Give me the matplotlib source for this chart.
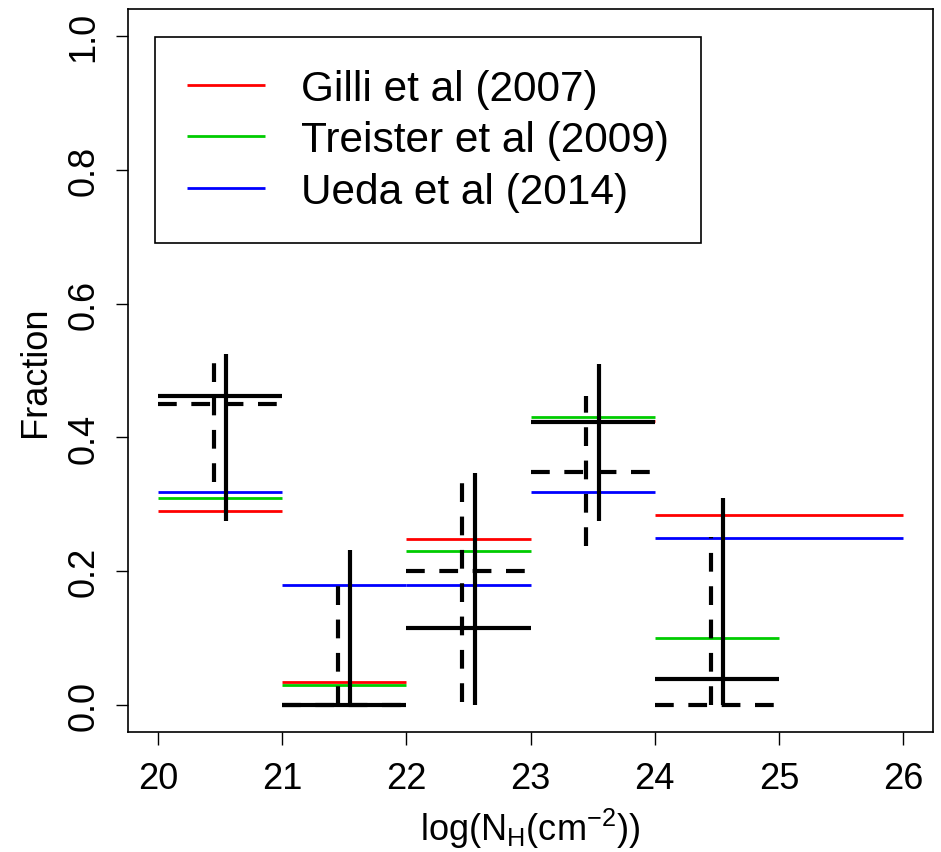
import matplotlib
matplotlib.use('Agg')
import matplotlib.pyplot as plt

plt.rcParams['font.family'] = ['Liberation Sans', 'DejaVu Sans']
plt.rcParams['mathtext.fontset'] = 'custom'
plt.rcParams['mathtext.rm'] = 'Liberation Sans'

# model curves: bin edges and fractions
gilli_lo = [20, 21, 22, 23, 24]
gilli_hi = [21, 22, 23, 24, 26]
gilli_val = [0.290, 0.034, 0.249, 0.425, 0.284]

treister_lo = [20, 21, 22, 23, 24]
treister_hi = [21, 22, 23, 24, 25]
treister_val = [0.309, 0.030, 0.230, 0.430, 0.100]

ueda_lo = [20, 21, 22, 23, 24]
ueda_hi = [21, 22, 23, 24, 26]
ueda_val = [0.319, 0.179, 0.179, 0.319, 0.250]

# observed fractions (solid and dashed) with error ranges
obs_lo = [20, 21, 22, 23, 24]
obs_hi = [21, 22, 23, 24, 25]
solid_x = [20.55, 21.55, 22.55, 23.55, 24.55]
solid_val = [0.462, 0.000, 0.115, 0.4235, 0.039]
solid_err_lo = [0.275, 0.000, 0.000, 0.275, 0.000]
solid_err_hi = [0.525, 0.232, 0.347, 0.510, 0.309]

dashed_x = [20.45, 21.45, 22.45, 23.45, 24.45]
dashed_val = [0.450, 0.000, 0.200, 0.349, 0.000]
dashed_err_lo = [0.333, 0.000, 0.005, 0.238, 0.000]
dashed_err_hi = [0.522, 0.181, 0.353, 0.462, 0.252]

xticks = [20, 21, 22, 23, 24, 25, 26]
yticks = [0.0, 0.2, 0.4, 0.6, 0.8, 1.0]

fig = plt.figure(figsize=(9.41, 8.53), dpi=100)
ax = fig.add_axes([128 / 941, 1 - 733 / 853, (933 - 128) / 941, (733 - 10) / 853])

red, green, blue = '#FF0000', '#00CC00', '#0000FF'

ax.hlines(gilli_val, gilli_lo, gilli_hi, color=red, lw=2, label='Gilli et al (2007)')
ax.hlines(treister_val, treister_lo, treister_hi, color=green, lw=2, label='Treister et al (2009)')
ax.hlines(ueda_val, ueda_lo, ueda_hi, color=blue, lw=2, label='Ueda et al (2014)')

dash = (0, (4.5, 3.5))
ax.hlines(dashed_val, obs_lo, obs_hi, color='black', lw=3, linestyles=[dash])
ax.vlines(dashed_x, dashed_err_lo, dashed_err_hi, color='black', lw=3, linestyles=[dash])
ax.hlines(solid_val, obs_lo, obs_hi, color='black', lw=3)
ax.vlines(solid_x, solid_err_lo, solid_err_hi, color='black', lw=3)

ax.set_xlim(19.76, 26.24)
ax.set_ylim(-0.04, 1.04)
ax.set_xticks(xticks)
ax.set_xticklabels([str(t) for t in xticks])
ax.set_yticks(yticks)
ax.set_yticklabels(['%.1f' % t for t in yticks], rotation=90, va='center')
ax.tick_params(labelsize=26, length=9, width=1, direction='out')
ax.tick_params(axis='x', pad=12)
ax.tick_params(axis='y', pad=10)
for s in ax.spines.values():
    s.set_linewidth(1.2)

ax.set_xlabel(r'log(N$_\mathrm{H}$(cm$^{-2}$))', fontsize=26, labelpad=7)
ax.set_ylabel('Fraction', fontsize=26, labelpad=10)

leg = ax.legend(loc='upper left', bbox_to_anchor=(155 / 941, 1 - 38 / 853),
                bbox_transform=fig.transFigure, borderaxespad=0, fontsize=30.5,
                fancybox=False, framealpha=1, edgecolor='black',
                handlelength=1.85, handletextpad=0.85, borderpad=0.75, labelspacing=0.27)
leg.get_frame().set_linewidth(1.2)

fig.savefig('out.png', dpi=100)
